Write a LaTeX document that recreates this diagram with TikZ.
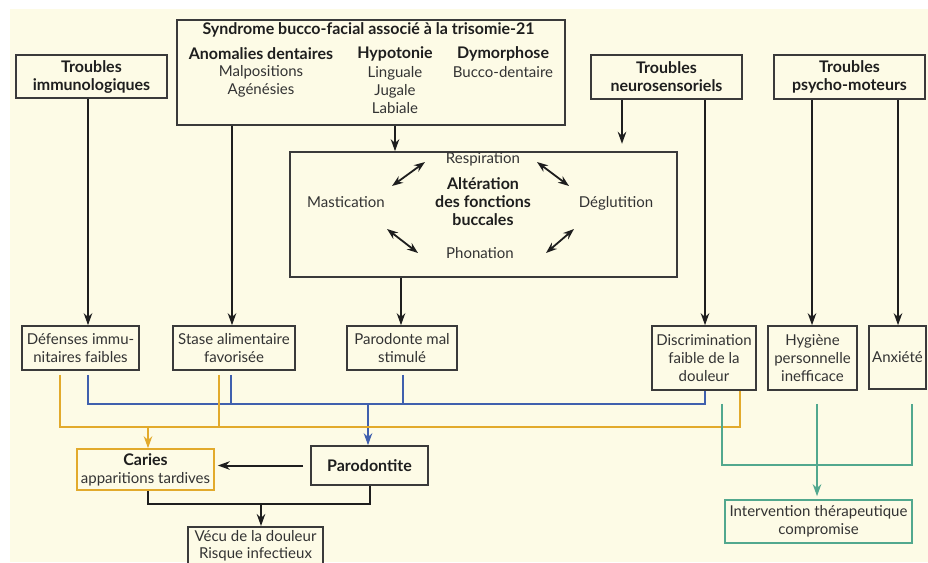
\documentclass[tikz,border=0pt]{standalone}
\usepackage{fontspec}
\setmainfont{Lato}
\usetikzlibrary{arrows.meta,calc}
\definecolor{bgc}{HTML}{FDFBE6}
\definecolor{boxc}{HTML}{3A3A3A}
\definecolor{lnc}{HTML}{1E1E1E}
\definecolor{txtc}{HTML}{333333}
\definecolor{yel}{HTML}{E2AA2C}
\definecolor{blu}{HTML}{4060AE}
\definecolor{tea}{HTML}{52A88E}
\newcommand\fs{\fontsize{15}{18}\selectfont}
\newcommand\fb{\fontsize{16}{18}\selectfont\bfseries}
\begin{document}
\begin{tikzpicture}[x=1pt,y=-1pt,
  box/.style={draw=boxc,line width=1.6pt,fill=bgc,inner sep=0pt,align=center,font=\fs,text=txtc},
  tbox/.style={box,font=\fb,text=lnc},
  tx/.style={inner sep=0pt,align=center,font=\fs,text=txtc},
  btx/.style={tx,font=\fb,text=lnc},
  arr/.style={-{Stealth[length=12pt,width=8.5pt]},line width=2pt,draw=lnc},
  darr/.style={{Stealth[length=11pt,width=8pt]}-{Stealth[length=11pt,width=8pt]},line width=1.8pt,draw=lnc},
  bl/.style={line width=2pt,draw=blu},
  yl/.style={line width=2pt,draw=yel},
  tl/.style={line width=2pt,draw=tea}]
\useasboundingbox (0,0) rectangle (928,562);
\clip (0,0) rectangle (928,562);
\fill[white] (0,0) rectangle (928,562);
\fill[bgc] (10,9) rectangle (928,562);

% top boxes
\node[box,minimum width=388pt,minimum height=105pt] (syn) at (371,72.5) {};
\node[btx] (synt) at (368.5,30) {Syndrome bucco-facial associé à la trisomie-21};
\node[btx] (ano) at (261,54) {Anomalies dentaires};
\node[tx] (anot) at (261,81) {Malpositions\\Agénésies};
\node[btx] (hyp) at (395,54) {Hypotonie};
\node[tx] (hypt) at (395,90) {Linguale\\Jugale\\Labiale};
\node[btx] (dym) at (503,54) {Dymorphose};
\node[tx] (dymt) at (503,72) {Bucco-dentaire};

\node[tbox,minimum width=151pt,minimum height=43pt] (imm) at (91.5,76.5) {Troubles\\immunologiques};
\node[tbox,minimum width=151pt,minimum height=44pt] (neu) at (666.5,77) {Troubles\\neurosensoriels};
\node[tbox,minimum width=151pt,minimum height=44pt] (psy) at (849.5,77) {Troubles\\psycho-moteurs};

% fonctions box
\node[box,minimum width=387pt,minimum height=125pt] (fon) at (483.5,214.5) {};
\node[tx] (res) at (483,159) {Respiration};
\node[btx] (alt) at (483,202) {Altération\\des fonctions\\buccales};
\node[tx] (mas) at (346,202) {Mastication};
\node[tx] (deg) at (616,203) {Déglutition};
\node[tx] (pho) at (480,253) {Phonation};
\coordinate (a1) at (392,186); \coordinate (a2) at (425,162);
\coordinate (b1) at (387,229); \coordinate (b2) at (418,253);
\coordinate (c1) at (537,162); \coordinate (c2) at (569,186);
\coordinate (d1) at (546,253); \coordinate (d2) at (574,229);
\draw[darr] (a1) -- (a2);
\draw[darr] (b1) -- (b2);
\draw[darr] (c1) -- (c2);
\draw[darr] (d1) -- (d2);

% second row
\node[box,minimum width=117pt,minimum height=44pt] (def) at (80.5,348) {Défenses immu-\\nitaires faibles};
\node[box,minimum width=122pt,minimum height=44pt] (sta) at (234,348) {Stase alimentaire\\favorisée};
\node[box,minimum width=110pt,minimum height=44pt] (par) at (402,348) {Parodonte mal\\stimulé};
\node[box,minimum width=104pt,minimum height=64pt] (dis) at (704,358) {Discrimination\\faible de la\\douleur};
\node[box,minimum width=89pt,minimum height=64pt] (hyg) at (812.5,358) {Hygiène\\personnelle\\inefficace};
\node[box,minimum width=57pt,minimum height=63pt] (anx) at (897.5,357.5) {Anxiété};

% lower boxes
\node[box,draw=yel,minimum width=137pt,minimum height=41pt] (car) at (145.5,469.5) {{\fb\color{lnc}Caries}\\apparitions tardives};
\node[tbox,minimum width=117pt,minimum height=39pt] (pdt) at (369.5,465.5) {Parodontite};
\node[box,anchor=north,minimum width=135pt,inner ysep=4pt,font=\fontsize{15}{16.5}\selectfont] (vec) at (255.5,526) {Vécu de la douleur\\Risque infectieux\\[4pt]};
\node[box,draw=tea,minimum width=187pt,minimum height=43pt] (int) at (818.5,521.5) {Intervention thérapeutique\\compromise};

% black arrows from top
\draw[arr] ([xshift=-3.5pt]imm.south) -- ([xshift=7.5pt]def.north);
\draw[arr] ([xshift=-139pt]syn.south) -- ([xshift=-2pt]sta.north);
\draw[arr] ([xshift=24pt]syn.south) -- ([xshift=-88.5pt]fon.north);
\draw[arr] ([xshift=-82.5pt]fon.south) -- ([xshift=-1pt]par.north);
\draw[arr] ([xshift=-44.5pt]neu.south) -- ++(0,44);
\draw[arr] ([xshift=38.5pt]neu.south) -- ([xshift=1pt]dis.north);
\draw[arr] ([xshift=-37.5pt]psy.south) -- ([xshift=-0.5pt]hyg.north);
\draw[arr] ([xshift=48.5pt]psy.south) -- ([xshift=0.5pt]anx.north);

% blue bus
\draw[bl] ([xshift=7.5pt]def.south) ++(0,4) -- ++(0,29) -| ([xshift=1pt]dis.south);
\draw[bl] ([xshift=-3pt]sta.south) ++(0,4) -- ++(0,29);
\draw[bl] ([xshift=1pt]par.south) ++(0,4) -- ++(0,29);
\coordinate (bj) at (368,403);
\draw[bl,-{Stealth[length=12pt,width=8.5pt]}] (bj) -- ([xshift=-1.5pt]pdt.north);

% yellow bus
\draw[yl] ([xshift=-20.5pt]def.south) ++(0,4) -- ++(0,52) -| ([xshift=36pt]dis.south);
\draw[yl] ([xshift=-15pt]sta.south) ++(0,4) -- ++(0,52);
\coordinate (yj) at (148,426);
\draw[yl,-{Stealth[length=12pt,width=8.5pt]}] (yj) -- ([xshift=2.5pt]car.north);

% parodontite -> caries
\draw[arr] ([xshift=-7pt]pdt.west) -- ($(car.east|-pdt.west)+(3,0)$);

% caries/parodontite -> vecu
\draw[line width=2pt,draw=lnc] ([xshift=2.5pt]car.south) -- ++(0,13) -| ([xshift=0.5pt]pdt.south);
\coordinate (kj) at (261,503);
\draw[arr] (kj) -- ([xshift=5.5pt]vec.north);

% teal
\draw[tl] ([xshift=18pt]dis.south) ++(0,13) -- ++(0,61) -| ([xshift=14.5pt,yshift=-14pt]anx.south);
\draw[tl,-{Stealth[length=12pt,width=8.5pt]},shorten >=3pt] ([xshift=4.5pt]hyg.south) ++(0,13) -- ([xshift=-1.5pt]int.north);
\end{tikzpicture}
\end{document}
